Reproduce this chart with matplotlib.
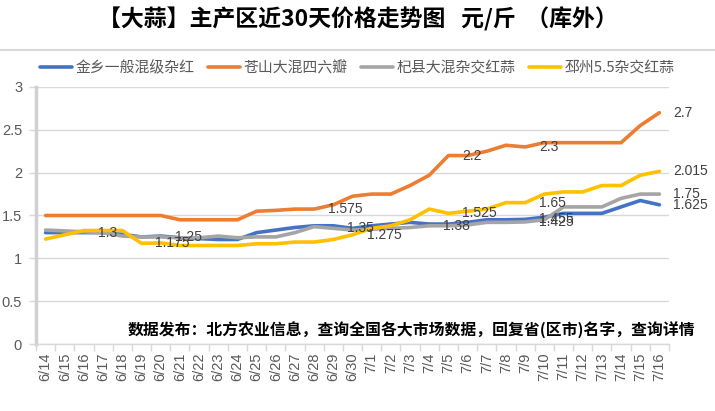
import matplotlib
matplotlib.use("Agg")
import matplotlib.pyplot as plt
import numpy as np

plt.rcParams['font.family'] = ['Noto Sans CJK SC', 'DejaVu Sans']

# data
dates = ['6/14', '6/15', '6/16', '6/17', '6/18', '6/19', '6/20', '6/21', '6/22',
         '6/23', '6/24', '6/25', '6/26', '6/27', '6/28', '6/29', '6/30', '7/1',
         '7/2', '7/3', '7/4', '7/5', '7/6', '7/7', '7/8', '7/9', '7/10', '7/11',
         '7/12', '7/13', '7/14', '7/15', '7/16']

jinxiang = [1.3, 1.3, 1.3, 1.3, 1.28, 1.25, 1.26, 1.24, 1.23, 1.22, 1.22,
            1.3, 1.33, 1.36, 1.38, 1.38, 1.35, 1.38, 1.4, 1.42, 1.4, 1.4,
            1.42, 1.45, 1.45, 1.455, 1.48, 1.525, 1.525, 1.525, 1.6, 1.675, 1.625]
cangshan = [1.5, 1.5, 1.5, 1.5, 1.5, 1.5, 1.5, 1.45, 1.45, 1.45, 1.45,
            1.55, 1.56, 1.575, 1.575, 1.625, 1.725, 1.75, 1.75, 1.85, 1.97, 2.2,
            2.2, 2.25, 2.32, 2.3, 2.35, 2.35, 2.35, 2.35, 2.35, 2.55, 2.7]
qixian = [1.33, 1.32, 1.31, 1.3, 1.26, 1.25, 1.25, 1.24, 1.24, 1.26, 1.24,
          1.25, 1.25, 1.3, 1.37, 1.35, 1.33, 1.34, 1.35, 1.36, 1.38, 1.38,
          1.39, 1.42, 1.42, 1.425, 1.45, 1.6, 1.6, 1.6, 1.7, 1.75, 1.75]
pizhou = [1.225, 1.275, 1.325, 1.325, 1.325, 1.175, 1.18, 1.15, 1.15, 1.15, 1.15,
          1.17, 1.17, 1.19, 1.19, 1.22, 1.275, 1.35, 1.38, 1.45, 1.575, 1.525,
          1.55, 1.575, 1.65, 1.65, 1.75, 1.775, 1.775, 1.85, 1.85, 1.97, 2.015]

names = ['金乡一般混级杂红', '苍山大混四六瓣', '杞县大混杂交红蒜', '邳州5.5杂交红蒜']
colors = ['#4472C4', '#ED7D31', '#A5A5A5', '#FFC000']
# which points carry a data label
label_idx = [[2, 25, 32], [14, 21, 25, 32], [6, 15, 20, 25, 32], [5, 16, 21, 25, 32]]

fig = plt.figure(figsize=(7.15, 4.11), dpi=100)
ax = fig.add_axes([36/715, 1 - 344/411, (669 - 36)/715, (344 - 87)/411])

x = np.arange(len(dates))
series = [jinxiang, cangshan, qixian, pizhou]
handles = []
for s, name, c, idx in zip(series, names, colors, label_idx):
    h, = ax.plot(x, s, color=c, lw=2.6, solid_capstyle='round',
                 solid_joinstyle='round', label=name, zorder=3)
    handles.append(h)
    for i in idx:
        ax.annotate(f'{s[i]:g}', (x[i], s[i]), xytext=(14, 0),
                    textcoords='offset pixels', ha='left', va='center',
                    fontsize=10, color='#404040', family='Liberation Sans',
                    zorder=4)

ax.set_xlim(-0.5, len(dates) - 0.5)
ax.set_ylim(0, 3)
ax.set_yticks(np.arange(0, 3.01, 0.5))
ax.set_yticklabels(['0', '0.5', '1', '1.5', '2', '2.5', '3'])
ax.grid(axis='y', color='#d9d9d9', lw=1, zorder=0)
ax.set_xticks(x)
ax.set_xticklabels(dates, rotation=90)
ax.set_xticks(np.arange(-0.5, len(dates), 1), minor=True)
ax.tick_params(axis='x', which='major', length=0, pad=6, labelsize=10.5,
               labelcolor='#595959')
ax.tick_params(axis='x', which='minor', length=5, color='#d9d9d9', width=1)
ax.tick_params(axis='y', length=5, color='#d9d9d9', width=1, pad=5,
               labelsize=10.5, labelcolor='#595959')
for lab in ax.get_xticklabels() + ax.get_yticklabels():
    lab.set_family('Liberation Sans')

for side in ['top', 'right']:
    ax.spines[side].set_visible(False)
ax.spines['left'].set_color('#d0d0d0')
ax.spines['left'].set_linewidth(2.5)
ax.spines['bottom'].set_color('#d9d9d9')
ax.spines['bottom'].set_linewidth(1)

fig.text(358/715, 1 - 19/411, '【大蒜】主产区近30天价格走势图   元/斤  （库外）',
         ha='center', va='center', fontsize=16.5, fontweight='bold', color='black')
fig.add_artist(plt.Line2D([0, 1], [1 - 50/411, 1 - 50/411], color='#d9d9d9', lw=1.5))

fig.legend(handles=handles, loc='center', bbox_to_anchor=(357/715, 1 - 68/411),
           ncol=4, frameon=False, fontsize=10.7, handlelength=2.2,
           handletextpad=0.2, columnspacing=0.9, labelcolor='#595959')

fig.text(695/715, 1 - 330/411,
         '数据发布：北方农业信息，查询全国各大市场数据，回复省(区市)名字，查询详情',
         ha='right', va='center', fontsize=11.4, fontweight='bold', color='black')

fig.savefig('out.png', dpi=100)
